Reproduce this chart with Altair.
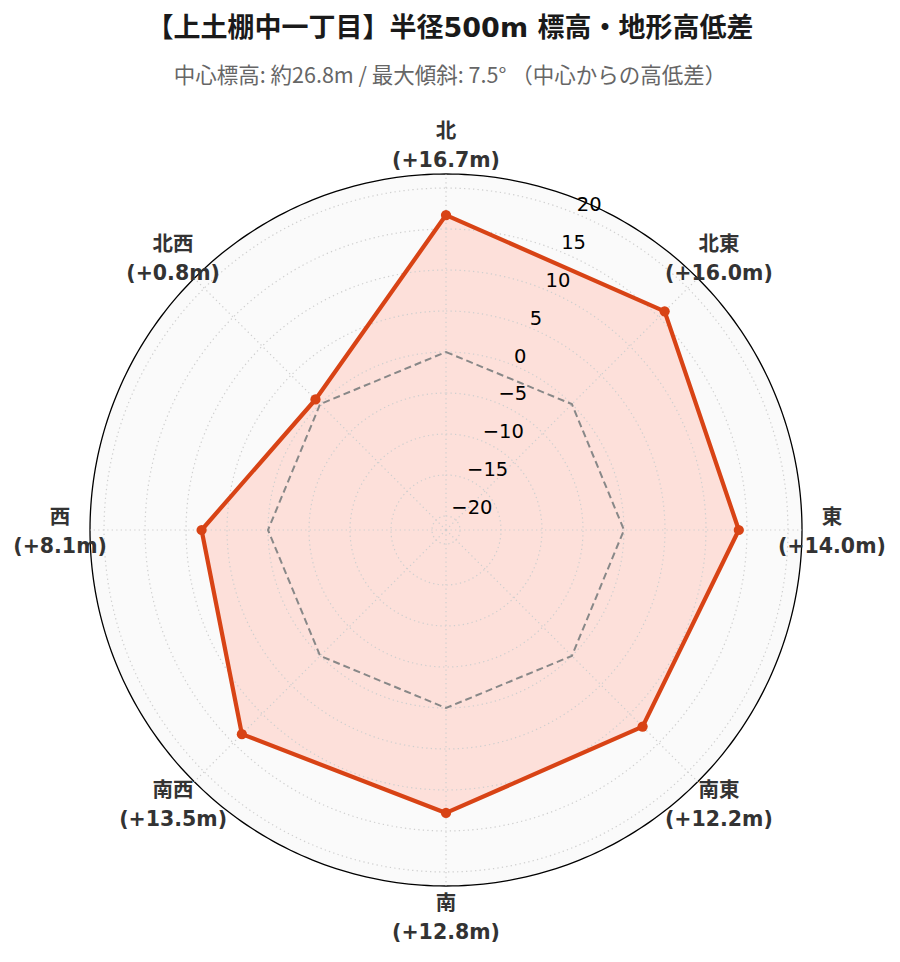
import altair as alt
import numpy as np
import pandas as pd

# ---------------- data ----------------
directions = ["北", "北東", "東", "南東", "南", "南西", "西", "北西"]
direction_angles = [0, 45, 90, 135, 180, 225, 270, 315]
height_diffs = [16.7, 16.0, 14.0, 12.2, 12.8, 13.5, 8.1, 0.8]
r_ticks = [-20, -15, -10, -5, 0, 5, 10, 15, 20]
r_tick_labels = ["−20", "−15", "−10", "−5", "0", "5", "10", "15", "20"]
r_limit = 21.71
title_text = "【上土棚中一丁目】半径500m 標高・地形高低差"
subtitle_text = "中心標高: 約26.8m / 最大傾斜: 7.5° （中心からの高低差）"

# ---------------- layout ----------------
W, H = 884, 844
PX = 356 / (2 * r_limit)          # pixels per unit
CX, CY = 438, 420                 # centre inside plot area (px)
x_dom = [-CX / PX, (W - CX) / PX]
y_dom = [-(H - CY) / PX, CY / PX]
label_pad = 3.65                  # units beyond outer ring for direction labels
rlabel_angle = 22.5

RED = "#d84315"
FILL = "#fde0da"
FONT = "DejaVu Sans, Noto Sans CJK JP"

xs = alt.X("x:Q", scale=alt.Scale(domain=x_dom, nice=False, zero=False), axis=None)
ys = alt.Y("y:Q", scale=alt.Scale(domain=y_dom, nice=False, zero=False), axis=None)


def polar(ch):
    return ch.transform_calculate(
        u=f"datum.value + {r_limit}"
    ).transform_calculate(
        x="datum.u * sin(datum.angle * PI / 180)",
        y="datum.u * cos(datum.angle * PI / 180)",
    )


# data frames
df = pd.DataFrame({
    "direction": directions,
    "angle": direction_angles,
    "value": height_diffs,
    "order": list(range(len(directions))),
})
df["label"] = [f"{d}\n({v:+.1f}m)" for d, v in zip(directions, height_diffs)]

zero_df = pd.DataFrame({"angle": direction_angles, "value": [0.0] * len(direction_angles),
                        "order": list(range(len(direction_angles)))})

circle_angles = np.arange(0, 360, 1.0)
grid_rows = []
for t in r_ticks:
    for i, a in enumerate(circle_angles):
        grid_rows.append({"ring": t, "angle": a, "value": float(t), "order": i})
grid_df = pd.DataFrame(grid_rows)
outer_df = pd.DataFrame({"angle": circle_angles, "value": r_limit,
                         "order": list(range(len(circle_angles)))})

spoke_df = pd.DataFrame({"angle": direction_angles})

tick_df = pd.DataFrame({"value": r_ticks, "text": r_tick_labels,
                        "angle": [rlabel_angle] * len(r_ticks)})

label_df = df.copy()
label_df["value"] = r_limit + label_pad

# ---------------- layers ----------------
disk = polar(alt.Chart(outer_df)).mark_line(
    fill="#fafafa", stroke="black", strokeWidth=1.3, interpolate="linear-closed"
).encode(x=xs, y=ys, order="order:Q")

data_fill = polar(alt.Chart(df)).mark_line(
    fill=FILL, strokeWidth=0, interpolate="linear-closed"
).encode(x=xs, y=ys, order="order:Q")

grid = polar(alt.Chart(grid_df)).mark_line(
    stroke="#cfcfcf", strokeWidth=1.2, strokeDash=[1.3, 3.2], interpolate="linear-closed"
).encode(x=xs, y=ys, order="order:Q", detail="ring:N")

spokes = alt.Chart(spoke_df).transform_calculate(
    x="0",
    y="0",
    x2=f"{2 * r_limit} * sin(datum.angle * PI / 180)",
    y2=f"{2 * r_limit} * cos(datum.angle * PI / 180)",
).mark_rule(stroke="#cfcfcf", strokeWidth=1.2, strokeDash=[1.3, 3.2]).encode(
    x=xs, y=ys, x2="x2:Q", y2="y2:Q"
)

zero_line = polar(alt.Chart(zero_df)).mark_line(
    stroke="#888888", strokeWidth=2.0, strokeDash=[7, 4], interpolate="linear-closed"
).encode(x=xs, y=ys, order="order:Q")

data_line = polar(alt.Chart(df)).mark_line(
    stroke=RED, strokeWidth=4.2, interpolate="linear-closed", strokeJoin="round"
).encode(x=xs, y=ys, order="order:Q")

points = polar(alt.Chart(df)).mark_point(
    filled=True, color=RED, size=105, opacity=1
).encode(x=xs, y=ys)

tick_text = polar(alt.Chart(tick_df)).mark_text(
    align="left", baseline="middle", dy=-9, fontSize=19.5, font="DejaVu Sans", color="black"
).encode(x=xs, y=ys, text="text:N")

dir_text = polar(alt.Chart(label_df)).mark_text(
    align="center", baseline="middle", dy=-12, fontSize=20.5, fontWeight="bold", font=FONT,
    color="#333333", lineBreak="\n", lineHeight=29
).encode(x=xs, y=ys, text="label:N")

chart = alt.layer(
    disk, data_fill, grid, spokes, zero_line, data_line, points, tick_text, dir_text
).properties(
    width=W, height=H,
    padding={"top": 102, "left": 0, "right": 0, "bottom": 0},
    autosize=alt.AutoSizeParams(type="none"),
    title=alt.TitleParams(
        text=title_text, subtitle=subtitle_text, anchor="middle",
        font="DejaVu Sans, Noto Sans CJK JP", fontSize=27, fontWeight="bold", color="#1a1a1a",
        subtitleFont="Noto Sans CJK JP", subtitleFontSize=21.5, subtitleColor="#666666",
        subtitlePadding=23, offset=22,
    ),
).configure_view(stroke=None)

chart.save("out.html", embed_options={"renderer": "svg", "actions": False})
